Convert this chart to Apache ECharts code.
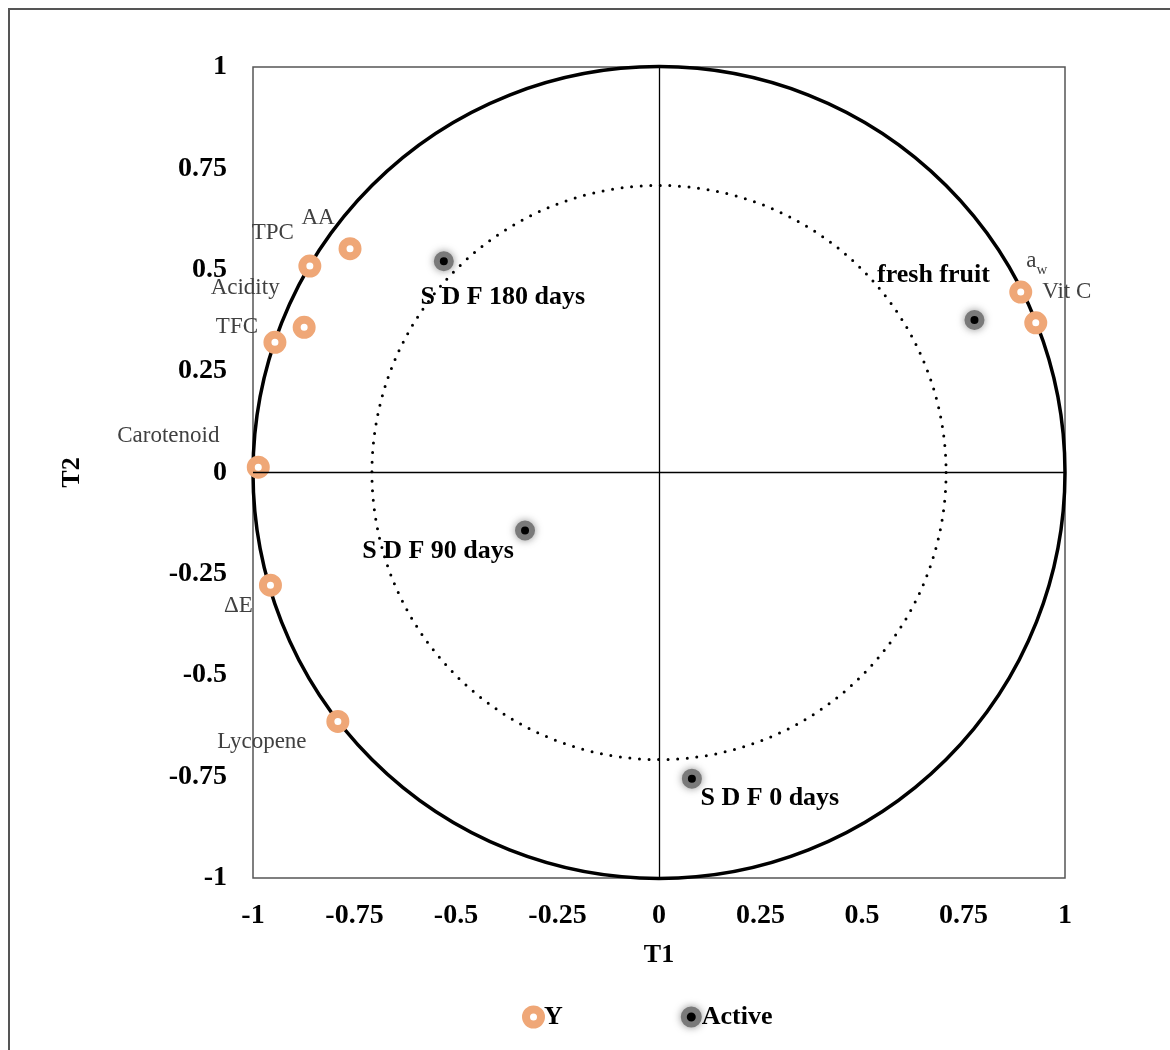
<!DOCTYPE html>
<html>
<head>
<meta charset="utf-8">
<script src="https://cdn.jsdelivr.net/npm/echarts@6/dist/echarts.min.js"></script>
<style>
html,body{margin:0;padding:0;background:#fff;}
#chart{width:1170px;height:1050px;}
</style>
</head>
<body>
<div id="chart"></div>
<script>
// ---- data ----
const varNames = ['AA', 'TPC', 'Acidity', 'TFC', 'Carotenoid', 'ΔE', 'Lycopene', 'a_w', 'Vit C'];
const varT1 = [-0.761, -0.860, -0.874, -0.946, -0.987, -0.957, -0.791, 0.891, 0.928];
const varT2 = [0.552, 0.509, 0.358, 0.321, 0.013, -0.278, -0.614, 0.445, 0.369];

const obsNames = ['S D F 180 days', 'S D F 90 days', 'S D F 0 days', 'fresh fruit'];
const obsT1 = [-0.530, -0.330, 0.081, 0.777];
const obsT2 = [0.521, -0.143, -0.755, 0.376];

const circleRadii = [1, 0.7071];
const axisTicks = [-1, -0.75, -0.5, -0.25, 0, 0.25, 0.5, 0.75, 1];

// ---- label placement (pixels relative to marker) ----
const varLabelOffset = {
  'AA': [-32, -31], 'TPC': [-37, -33], 'Acidity': [-59, -39], 'TFC': [-38, -15],
  'Carotenoid': [-90, -31], 'ΔE': [-32, 21], 'Lycopene': [-76, 20],
  'a_w': [16, -26], 'Vit C': [31, -31]
};
const obsLabelOffset = {
  'S D F 180 days': [59, 36], 'S D F 90 days': [-87, 21],
  'S D F 0 days': [78, 20], 'fresh fruit': [-41, -45]
};

const serif = "'Liberation Serif', 'Times New Roman', serif";

const varData = varNames.map((n, i) => ({
  name: n,
  value: [varT1[i], varT2[i]],
  label: { offset: varLabelOffset[n] }
}));
const obsData = obsNames.map((n, i) => ({
  name: n,
  value: [obsT1[i], obsT2[i]],
  label: { offset: obsLabelOffset[n] }
}));

const yStyle = { color: '#fff', borderColor: '#EFA777', borderWidth: 8, opacity: 1 };
const activeStyle = { color: '#000', borderColor: '#7a7a7a', borderWidth: 6, shadowBlur: 8, shadowColor: 'rgba(0,0,0,0.35)', opacity: 1 };

const chart = echarts.init(document.getElementById('chart'));
const axisLabelStyle = { fontFamily: serif, fontSize: 28, fontWeight: 'bold', color: '#000' };

const option = {
  backgroundColor: '#fff',
  animation: false,
  graphic: [{
    type: 'rect',
    shape: { x: 9, y: 9, width: 1300, height: 1200 },
    style: { fill: 'none', stroke: '#555', lineWidth: 2 },
    silent: true, z: 0
  }],
  grid: {
    left: 253, top: 67, width: 812, height: 811,
    show: true, borderColor: '#555', borderWidth: 1.5, backgroundColor: 'transparent'
  },
  xAxis: {
    type: 'value', min: -1, max: 1, interval: 0.25,
    name: 'T1', nameLocation: 'middle', nameGap: 64,
    nameTextStyle: { fontFamily: serif, fontSize: 26, fontWeight: 'bold', color: '#000' },
    axisLine: { show: false, onZero: false },
    axisTick: { show: false },
    splitLine: { show: false },
    axisLabel: Object.assign({ margin: 24, formatter: v => String(v) }, axisLabelStyle)
  },
  yAxis: {
    type: 'value', min: -1, max: 1, interval: 0.25,
    name: 'T2', nameLocation: 'middle', nameGap: 168, nameRotate: 90,
    nameTextStyle: { fontFamily: serif, fontSize: 26, fontWeight: 'bold', color: '#000' },
    axisLine: { show: false, onZero: false },
    axisTick: { show: false },
    splitLine: { show: false },
    axisLabel: Object.assign({ margin: 26, formatter: v => String(v) }, axisLabelStyle)
  },
  legend: {
    left: 517, top: 999,
    itemWidth: 15, itemHeight: 15, itemGap: 118,
    textStyle: { fontFamily: serif, fontSize: 26, fontWeight: 'bold', color: '#000', padding: [0, 0, 0, -2] },
    data: [
      { name: 'Y', icon: 'circle', itemStyle: yStyle },
      { name: 'Active', icon: 'circle', itemStyle: activeStyle }
    ]
  },
  series: [
    {
      type: 'custom',
      name: 'circles',
      coordinateSystem: 'cartesian2d',
      silent: true,
      clip: false,
      z: 1,
      data: circleRadii.map(r => [0, 0, r]),
      renderItem: function (params, api) {
        const c = api.coord([api.value(0), api.value(1)]);
        const s = api.size([api.value(2), api.value(2)]);
        const outer = params.dataIndex === 0;
        return {
          type: 'circle',
          shape: { cx: c[0], cy: c[1], r: s[0] },
          style: outer
            ? { fill: 'none', stroke: '#000', lineWidth: 3.5 }
            : { fill: 'none', stroke: '#000', lineWidth: 3, lineDash: [0, 9.6], lineCap: 'round' }
        };
      },
      markLine: {
        silent: true, symbol: 'none',
        lineStyle: { color: '#000', width: 1.3, type: 'solid' },
        label: { show: false },
        data: [{ xAxis: 0 }, { yAxis: 0 }]
      }
    },
    {
      type: 'scatter',
      name: 'Y',
      z: 3,
      symbol: 'circle',
      symbolSize: 15,
      itemStyle: yStyle,
      label: {
        show: true, position: 'inside', align: 'center', verticalAlign: 'middle',
        fontFamily: serif, fontSize: 23, color: '#404040',
        formatter: p => p.name === 'a_w' ? '{a|a}{w|w}' : p.name,
        rich: {
          a: { fontFamily: serif, fontSize: 23, color: '#404040', padding: [0, 0, 10, 0] },
          w: { fontFamily: serif, fontSize: 15, color: '#404040', padding: [8, 0, 0, 0] }
        }
      },
      data: varData
    },
    {
      type: 'scatter',
      name: 'Active',
      z: 3,
      symbol: 'circle',
      symbolSize: 14,
      itemStyle: activeStyle,
      label: {
        show: true, position: 'inside', align: 'center', verticalAlign: 'middle',
        fontFamily: serif, fontSize: 26, fontWeight: 'bold', color: '#000',
        formatter: p => p.name
      },
      data: obsData
    }
  ]
};
chart.setOption(option);
</script>
</body>
</html>
